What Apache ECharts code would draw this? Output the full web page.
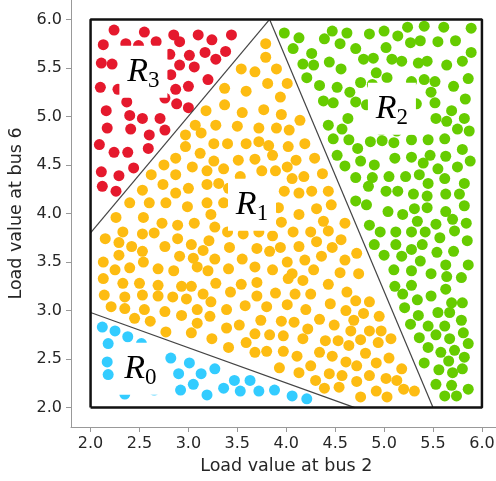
<!DOCTYPE html>
<html>
<head>
<meta charset="utf-8">
<title>Load regions</title>
<script src="https://cdn.jsdelivr.net/npm/echarts@6/dist/echarts.min.js"></script>
<style>
  html, body { margin: 0; padding: 0; background: #fff; }
  #chart { width: 496px; height: 481px; }
</style>
</head>
<body>
<div id="chart"></div>
<script>
// tick positions on both axes
const tickValues = [2.0, 2.5, 3.0, 3.5, 4.0, 4.5, 5.0, 5.5, 6.0];

// sample points, one array per region
const regionR0 = [
  [2.12,2.83],[2.25,2.79],[2.38,2.73],[2.18,2.66],[2.52,2.66],[2.82,2.51],[3.01,2.46],[2.17,2.47],
  [2.90,2.35],[3.13,2.35],[3.27,2.40],[2.18,2.34],[3.05,2.24],[2.92,2.18],[3.19,2.13],[2.35,2.14],
  [2.65,2.18],[3.47,2.28],[3.63,2.28],[3.36,2.20],[3.53,2.17],[3.72,2.17],[3.88,2.18],[4.06,2.12],[4.21,2.09]
];

const regionR1 = [
  [3.18,5.06],[3.28,4.91],[3.07,4.91],[2.97,4.81],[3.13,4.83],
  [3.79,5.75],[3.79,5.61],[3.54,5.49],[3.68,5.46],[3.90,5.49],[3.81,5.34],[4.01,5.34],[3.37,5.29],
  [3.59,5.26],[3.94,5.20],[3.37,5.12],[3.55,5.04],[3.77,5.07],[3.95,5.02],[4.14,4.96],[3.50,4.90],
  [3.72,4.88],[3.90,4.88],[4.03,4.86],[3.40,4.72],[3.59,4.72],[3.72,4.74],[3.82,4.70],[4.02,4.69],[4.19,4.72],
  [2.97,4.69],[3.12,4.62],[3.26,4.72],[2.87,4.57],[2.75,4.50],[3.04,4.48],[3.26,4.54],[3.19,4.44],
  [2.62,4.40],[2.87,4.40],[2.74,4.30],[3.00,4.26],[3.19,4.30],[2.53,4.24],[2.87,4.21],[3.31,4.31],
  [2.40,4.11],[2.60,4.11],[2.77,4.11],[2.99,4.07],[3.19,4.11],[2.26,3.96],[2.54,3.96],[2.73,3.90],
  [2.89,3.88],[3.06,3.90],[3.23,3.99],[3.27,3.86],[2.33,3.81],[2.53,3.79],[2.65,3.80],[2.15,3.74],
  [2.29,3.70],[2.42,3.66],[2.53,3.61],[2.76,3.66],[2.89,3.74],[3.03,3.68],[3.21,3.72],[3.15,3.62],
  [2.29,3.57],[2.91,3.56],[3.05,3.54],[3.27,3.53],[2.13,3.50],[2.54,3.50],[2.25,3.42],[2.40,3.44],
  [2.69,3.43],[2.85,3.41],[3.09,3.45],[3.20,3.41],[2.13,3.33],
  [3.51,4.55],[3.68,4.56],[3.86,4.60],[4.10,4.55],[4.29,4.57],[3.36,4.46],[3.75,4.44],[3.89,4.44],
  [4.01,4.48],[3.53,4.38],[4.06,4.36],[4.18,4.38],[4.37,4.41],[3.41,4.26],[3.98,4.23],[4.13,4.21],
  [4.26,4.23],[4.43,4.23],[3.36,4.11],[3.92,4.06],[4.31,4.05],[4.46,4.09],[4.13,3.99],[3.95,3.91],
  [4.38,3.92],[3.40,3.81],[3.56,3.79],[3.72,3.81],[3.86,3.77],[4.07,3.81],[4.25,3.81],[4.43,3.82],
  [4.56,3.73],[3.42,3.65],[3.70,3.64],[3.83,3.61],[3.94,3.65],[4.13,3.66],[4.31,3.71],[4.47,3.65],
  [3.55,3.53],[3.68,3.45],[3.86,3.42],[4.01,3.50],[4.19,3.52],[4.36,3.56],[4.60,3.52],[3.41,3.43],
  [4.06,3.38],[4.28,3.42],[4.55,3.39],[4.60,3.90],[4.72,3.59],[4.74,3.38],
  [4.02,3.33],[4.17,3.31],[4.43,3.27],[3.28,3.28],[3.54,3.27],[3.70,3.29],[3.43,3.19],[3.70,3.15],
  [3.89,3.18],[4.09,3.17],[4.25,3.17],[4.62,3.19],[4.45,3.07],[3.39,3.01],[3.58,3.05],[3.80,3.04],
  [4.01,3.06],[4.20,3.01],[4.61,3.00],[4.34,2.91],[3.74,2.90],[3.95,2.89],[4.08,2.88],[4.49,2.85],
  [3.39,2.82],[3.52,2.85],[4.22,2.81],[3.68,2.76],[3.83,2.75],[3.97,2.74],[4.17,2.71],[4.40,2.69],
  [4.53,2.69],[3.59,2.67],[3.41,2.62],[3.68,2.57],[3.80,2.58],[3.97,2.58],[4.11,2.53],[4.34,2.57],
  [4.47,2.53],[4.61,2.47],[4.25,2.43],[3.93,2.41],[4.13,2.36],[4.44,2.35],[4.57,2.33],[4.30,2.28],
  [4.39,2.20],[4.54,2.21],
  [2.33,3.28],[2.50,3.28],[2.69,3.26],[2.93,3.25],[3.03,3.25],[2.14,3.16],[2.35,3.14],[2.53,3.16],
  [2.69,3.15],[2.84,3.14],[2.98,3.12],[3.15,3.17],[3.23,3.09],[2.21,3.04],[2.35,3.02],[2.55,3.01],
  [2.76,2.99],[2.93,2.95],[3.09,3.01],[3.22,2.94],[2.45,2.92],[2.61,2.89],[3.09,2.87],[2.77,2.78],
  [3.03,2.77],[3.24,2.71],
  [4.71,3.10],[4.85,3.09],[4.79,2.97],[4.95,2.94],[4.69,2.90],[4.66,2.79],[4.85,2.79],[4.97,2.79],
  [4.76,2.70],[4.94,2.67],[5.07,2.71],[4.64,2.64],[4.81,2.56],[4.92,2.46],[5.05,2.51],[4.72,2.43],
  [5.18,2.40],[4.85,2.33],[5.02,2.30],[5.13,2.28],[4.72,2.27],[5.20,2.19],[5.31,2.17],[4.92,2.17],
  [4.76,2.11],[5.03,2.11]
];

const regionR2 = [
  [3.98,5.86],[4.13,5.81],[4.07,5.70],[4.39,5.80],[4.47,5.88],[4.55,5.75],[4.62,5.86],[4.26,5.65],
  [4.17,5.54],[4.28,5.53],[4.44,5.56],[4.56,5.49],[4.21,5.40],[4.34,5.32],[4.52,5.30],[4.65,5.25],
  [4.38,5.16],[4.48,5.14],[4.63,4.98],[4.43,4.91],[4.57,4.87],[4.48,4.77],[4.85,5.85],[5.00,5.88],
  [5.14,5.83],[5.24,5.92],[5.41,5.93],[5.61,5.92],[5.89,5.91],[5.27,5.76],[5.37,5.78],[5.55,5.77],
  [5.73,5.78],[4.71,5.70],[5.02,5.71],[5.89,5.66],[4.79,5.59],[4.89,5.60],[5.08,5.59],[5.18,5.57],
  [5.35,5.55],[5.44,5.57],[5.64,5.53],[5.80,5.57],[4.92,5.45],[5.03,5.40],[4.76,5.35],[4.88,5.33],
  [5.28,5.36],[5.41,5.38],[5.52,5.36],[5.86,5.39],[5.48,5.25],[5.71,5.31],[4.71,5.15],[4.82,5.12],
  [5.33,5.13],[5.52,5.14],[5.83,5.18],[5.69,5.06],[5.53,4.98],[5.64,4.95],[5.82,4.98],[5.75,4.87],
  [5.87,4.85],[4.97,4.86],[5.13,4.85],[4.64,4.76],[4.86,4.74],[4.98,4.75],[5.10,4.73],[5.28,4.76],
  [5.45,4.76],[5.62,4.77],[4.73,4.67],[5.80,4.66],[4.60,4.49],[4.76,4.54],[4.90,4.50],[5.11,4.57],
  [5.28,4.58],[5.47,4.60],[5.63,4.59],[5.40,4.52],[5.55,4.46],[5.75,4.48],[5.88,4.54],[4.71,4.37],
  [4.88,4.37],[5.05,4.38],[5.22,4.38],[5.36,4.40],[5.45,4.31],[5.62,4.36],[5.82,4.31],[4.84,4.28],
  [5.02,4.23],[5.14,4.23],[5.30,4.20],[5.44,4.18],[5.63,4.20],[5.77,4.20],[4.71,4.13],[4.82,4.09],
  [5.31,4.05],[5.44,4.06],[5.82,4.08],[5.04,4.02],[5.19,3.99],[5.63,4.02],[5.34,3.92],[5.70,3.94],
  [4.85,3.88],[5.53,3.89],[5.84,3.90],[4.96,3.81],[5.12,3.81],[5.28,3.81],[5.42,3.81],[5.72,3.82],
  [5.57,3.75],[4.90,3.68],[5.12,3.68],[5.39,3.68],[5.85,3.72],[5.00,3.57],[5.18,3.56],[5.28,3.63],
  [5.54,3.60],[5.71,3.61],[5.37,3.51],[5.10,3.42],[5.28,3.41],[5.48,3.38],[5.63,3.47],[5.86,3.47],
  [5.79,3.34],[4.52,4.60],[5.64,3.35],[5.11,3.25],[5.28,3.26],[5.19,3.17],[5.34,3.11],[5.48,3.15],
  [5.63,3.22],[5.69,3.08],[5.80,3.08],[5.21,3.03],[5.35,2.95],[5.55,2.98],[5.67,2.98],[5.79,2.90],
  [5.27,2.86],[5.45,2.84],[5.62,2.84],[5.81,2.77],[5.36,2.72],[5.53,2.75],[5.67,2.71],[5.86,2.66],
  [5.45,2.62],[5.58,2.57],[5.72,2.59],[5.82,2.52],[5.41,2.46],[5.66,2.48],[5.56,2.39],[5.70,2.36],
  [5.80,2.40],[5.53,2.24],[5.69,2.23],[5.86,2.19],[5.62,2.12],[5.74,2.12]
];

const regionR3 = [
  [2.24,5.89],[2.55,5.87],[2.85,5.84],[3.10,5.84],[3.24,5.79],[2.13,5.74],[2.36,5.75],[2.49,5.73],
  [2.67,5.77],[2.91,5.77],[3.17,5.66],[3.01,5.63],[3.28,5.59],[2.81,5.64],[2.11,5.55],[2.22,5.54],
  [2.91,5.53],[3.06,5.51],[2.82,5.43],[3.20,5.38],[2.10,5.30],[2.28,5.28],[3.00,5.31],[2.87,5.28],
  [2.76,5.19],[2.37,5.15],[2.88,5.13],[3.00,5.09],[2.16,5.06],[2.40,5.01],[2.53,4.98],[2.71,4.98],
  [2.17,4.88],[2.41,4.87],[2.76,4.86],[2.60,4.81],[2.09,4.71],[2.24,4.63],[2.38,4.63],[2.59,4.67],
  [2.11,4.43],[2.29,4.39],[2.44,4.47],[2.12,4.28],[2.26,4.23],[3.44,5.84],[3.38,5.67]
];

// region outline and the three boundaries
const outerBox = [[2, 2], [6, 2], [6, 6], [2, 6], [2, 2]];
const borderR3R1 = [[2, 3.80], [3.83, 6]];
const borderR1R2 = [[3.83, 6], [5.50, 2]];
const borderR0R1 = [[2, 2.98], [4.70, 2]];

// region names: x, y, subscript
const regionLabels = [[2.51, 2.40, '0'], [3.65, 4.09, '1'], [5.08, 5.08, '2'], [2.54, 5.46, '3']];

const chart = echarts.init(document.getElementById('chart'), null, { renderer: 'canvas' });

const textColor = '#262626';
const spineColor = '#999';

function dots(name, data, color) {
  return {
    name: name,
    type: 'scatter',
    data: data,
    symbolSize: 11,
    itemStyle: { color: color, opacity: 1 },
    z: 2
  };
}

function edge(data, width, color) {
  return {
    type: 'line',
    data: data,
    symbol: 'none',
    lineStyle: { color: color, width: width },
    z: 3
  };
}

const option = {
  animation: false,
  backgroundColor: '#fff',
  grid: { left: 71, top: 0, width: 430.5, height: 427, outerBoundsMode: 'none' },
  xAxis: {
    type: 'value',
    min: 1.8,
    max: 6.2,
    name: 'Load value at bus 2',
    nameLocation: 'middle',
    nameGap: 30,
    nameTextStyle: { fontFamily: 'DejaVu Sans', fontSize: 17.5, color: textColor },
    axisLine: { show: true, onZero: false, lineStyle: { color: spineColor, width: 1 } },
    axisTick: { show: true, length: 5, customValues: tickValues, lineStyle: { color: spineColor } },
    axisLabel: {
      customValues: tickValues,
      margin: 9,
      fontFamily: 'DejaVu Sans',
      fontSize: 16,
      color: textColor,
      formatter: v => v.toFixed(1)
    },
    splitLine: { show: false }
  },
  yAxis: {
    type: 'value',
    min: 1.8,
    max: 6.2,
    name: 'Load value at bus 6',
    nameLocation: 'middle',
    nameRotate: 90,
    nameGap: 44,
    nameTextStyle: { fontFamily: 'DejaVu Sans', fontSize: 17.5, color: textColor },
    axisLine: { show: true, onZero: false, lineStyle: { color: spineColor, width: 1 } },
    axisTick: { show: true, length: 5, customValues: tickValues, lineStyle: { color: spineColor } },
    axisLabel: {
      customValues: tickValues,
      margin: 9,
      fontFamily: 'DejaVu Sans',
      fontSize: 16,
      color: textColor,
      formatter: v => v.toFixed(1)
    },
    splitLine: { show: false }
  },
  series: [
    dots('R0', regionR0, '#33ccff'),
    dots('R1', regionR1, '#fdbc12'),
    dots('R2', regionR2, '#66cc00'),
    dots('R3', regionR3, '#e5192d'),
    edge(borderR3R1, 1.2, '#444'),
    edge(borderR1R2, 1.2, '#444'),
    edge(borderR0R1, 1.2, '#444'),
    edge(outerBox, 2.5, '#111'),
    {
      // R_i names, the white rect symbol is the text box
      type: 'scatter',
      data: regionLabels,
      symbol: 'rect',
      symbolSize: [48, 52],
      itemStyle: { color: '#fff', opacity: 1 },
      z: 5,
      label: {
        show: true,
        position: 'inside',
        formatter: p => '{r|R}{s|' + p.data[2] + '}',
        rich: {
          r: { fontFamily: 'Liberation Serif', fontStyle: 'italic', fontSize: 34, lineHeight: 42, color: '#000' },
          s: { fontFamily: 'Liberation Serif', fontSize: 23, lineHeight: 20, verticalAlign: 'bottom', color: '#000' }
        }
      },
      labelLayout: { hideOverlap: false }
    }
  ]
};

chart.setOption(option);
</script>
</body>
</html>
